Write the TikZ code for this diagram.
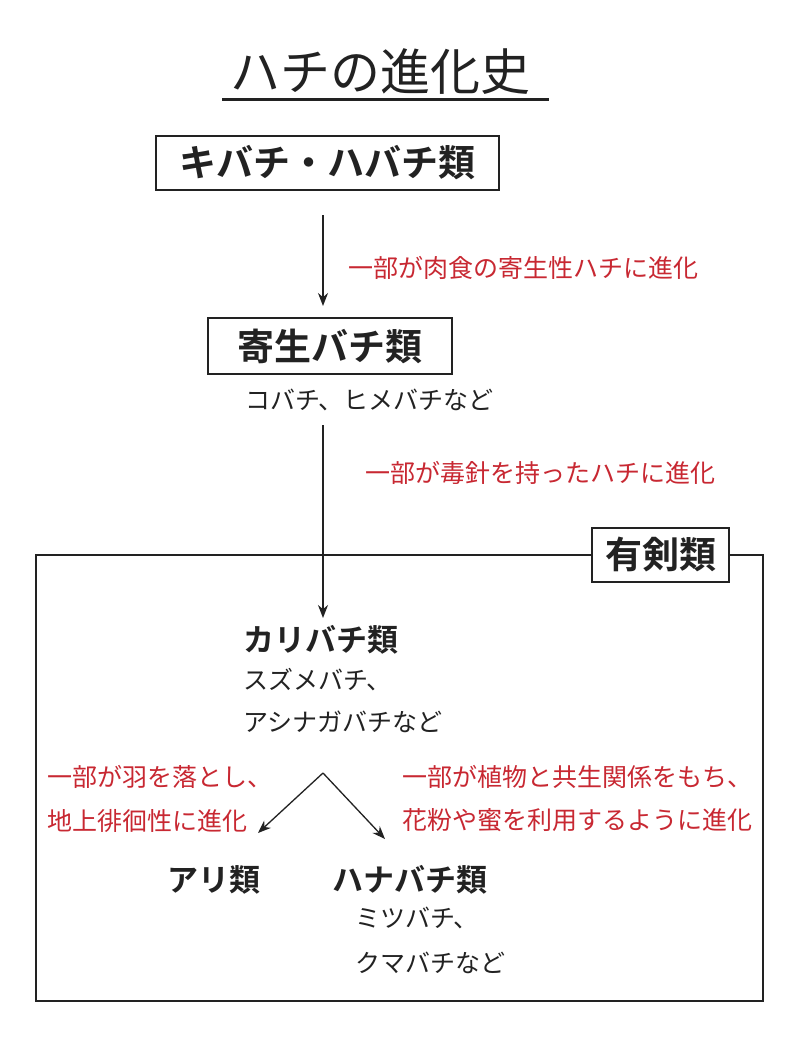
\documentclass[tikz,border=0pt]{standalone}
\usepackage{fontspec}
\usetikzlibrary{arrows.meta}
\setmainfont{Noto Sans CJK JP}
\newfontfamily\jpbold{Noto Sans CJK JP Bold}
\definecolor{evored}{RGB}{200,40,50}
\definecolor{evoink}{RGB}{34,34,34}
\begin{document}
\begin{tikzpicture}[x=1pt,y=-1pt,thick,>={Stealth[length=13pt,width=10pt]}]
\tikzstyle{grp}=[draw=evoink,line width=1.4pt,minimum height=54pt,text=evoink,font=\jpbold\fontsize{37}{37}\selectfont]
\tikzstyle{head}=[anchor=west,inner sep=0pt,text=evoink,font=\jpbold\fontsize{31}{31}\selectfont]
\tikzstyle{ex}=[anchor=west,inner sep=0pt,text=evoink,font=\fontsize{25}{25}\selectfont]
\tikzstyle{note}=[anchor=west,inner sep=0pt,text=evored,font=\fontsize{25}{25}\selectfont]
\tikzstyle{arr}=[->,draw=evoink,line width=1.3pt]
\useasboundingbox[fill=white] (0,0) rectangle (802,1046);
% title
\node[inner sep=0pt,text=evoink,font=\fontsize{50}{50}\selectfont] (title) at (380,72) {ハチの進化史};
\draw[evoink,line width=3pt] (222,100) -- (549,100);
% upper chain
\node[grp,minimum width=343pt] (kibachi) at (327.5,163) {キバチ・ハバチ類};
\node[grp,minimum width=244pt,minimum height=56pt] (kisei) at (330,346) {寄生バチ類};
\node[ex] (kiseiex) at (245,400) {コバチ、ヒメバチなど};
\coordinate (a1) at (323,215);
\coordinate (a2) at (323,306);
\draw[arr] (a1) -- (a2);
\node[note] (n1) at (348,268) {一部が肉食の寄生性ハチに進化};
\coordinate (b1) at (323,425);
\coordinate (b2) at (323,618);
% aculeata frame
\draw[evoink,line width=1.4pt] (36,555) rectangle (763,1001);
\node[grp,fill=white,minimum width=137pt,minimum height=54pt] (yuken) at (660.5,555) {有剣類};
\draw[arr] (b1) -- (b2);
\node[note] (n2) at (365,473) {一部が毒針を持ったハチに進化};
% wasps
\node[head] (kari) at (243,640) {カリバチ類};
\node[ex] (kari1) at (243,680) {スズメバチ、};
\node[ex] (kari2) at (243,722) {アシナガバチなど};
\coordinate (apex) at (323,773);
\coordinate (toari) at (258,833);
\coordinate (tohana) at (385,839);
\draw[arr] (apex) -- (toari);
\draw[arr] (apex) -- (tohana);
\node[note] (n3) at (47,777) {一部が羽を落とし、};
\node[note] (n4) at (47,821) {地上徘徊性に進化};
\node[note] (n5) at (402,777) {一部が植物と共生関係をもち、};
\node[note] (n6) at (402,820) {花粉や蜜を利用するように進化};
\node[head] (ari) at (167,880) {アリ類};
\node[head] (hana) at (332,880) {ハナバチ類};
\node[ex] (hana1) at (355,918) {ミツバチ、};
\node[ex] (hana2) at (355,963) {クマバチなど};
\end{tikzpicture}
\end{document}
